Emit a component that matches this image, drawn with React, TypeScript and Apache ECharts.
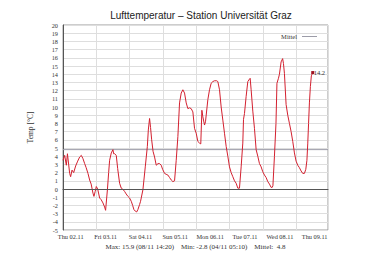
import React, { useEffect, useRef } from "react";
import * as echarts from "echarts";

const TITLE = "Lufttemperatur – Station Universität Graz";
const dayLabels = ["Thu 02.11", "Fri 03.11", "Sat 04.11", "Sun 05.11", "Mon 06.11", "Tue 07.11", "Wed 08.11", "Thu 09.11"];
const statsText = "Max: 15.9 (08/11 14:20)    Min: -2.8 (04/11 05:10)    Mittel:  4.8";
const meanValue = 4.8;
const lastLabel = "14.2";

// hours since Thu 02.11 00:00
const hours = [
  0, 1.2, 2.4, 3.2, 4.8, 5.5, 6.5, 7.7, 9.1, 10.6, 12.0, 13.2, 14.4, 15.6, 16.7, 18.0, 19.2, 20.3, 21.6, 22.3,
  23.2, 24.0, 25.0, 26.4, 27.5, 28.8, 30.0, 30.7, 32.0, 32.9, 33.6, 34.8, 36.0, 36.5, 37.2, 38.4, 39.4, 40.8,
  42.0, 43.0, 44.4, 45.5, 46.8, 48.0, 49.2, 50.2, 51.1, 52.1, 53.1, 54.0, 55.2, 55.9, 57.6, 59.3, 60.8, 61.5,
  62.4, 63.1, 63.9, 64.9, 66.0, 67.2, 68.5, 69.6, 70.8, 71.8, 73.2, 74.3, 75.6, 76.8, 78.0, 79.2, 80.4, 81.6,
  82.8, 84.0, 85.2, 86.4, 87.6, 88.8, 90.0, 91.2, 92.4, 93.6, 94.8, 96.0, 97.2, 98.4, 99.3, 100.1, 100.8,
  102.0, 102.7, 104.4, 105.6, 106.8, 108.0, 109.2, 110.7, 111.6, 112.8, 114.0, 115.2, 116.4, 117.6, 118.8,
  120.0, 121.2, 122.4, 123.6, 124.8, 126.0, 127.2, 128.4, 129.6, 130.1, 130.8, 132.0, 133.2, 134.4, 134.9,
  135.6, 136.8, 138.0, 139.2, 140.4, 141.6, 142.8, 144.0, 145.2, 146.4, 147.6, 148.8, 150.0, 150.8, 151.3,
  152.4, 153.5, 154.2, 155.3, 156.0, 157.2, 158.3, 158.9, 159.6, 160.8, 162.0, 163.2, 164.4, 165.6, 166.8,
  168.0, 169.2, 170.4, 171.6, 172.8, 174.0, 175.0, 175.8, 176.4, 177.0, 177.6, 178.3, 179.0, 180.0,
];

const temps = [
  3.5, 4.1, 2.9, 4.3, 1.9, 1.5, 2.3, 2.0, 2.8, 3.4, 3.9, 4.1, 3.7, 3.1, 2.6, 1.9, 1.1, 0.6, -0.5, -0.9,
  -0.3, 0.3, 0.0, -1.1, -1.3, -1.7, -2.2, -2.6, -0.1, 2.0, 3.5, 4.4, 4.8, 4.3, 4.3, 4.1, 2.5, 0.7,
  0.1, 0.0, -0.3, -0.6, -0.9, -1.1, -1.5, -2.0, -2.5, -2.7, -2.8, -2.5, -1.9, -1.5, -0.1, 2.7, 5.2, 7.2,
  8.6, 7.5, 6.0, 4.6, 3.9, 2.9, 3.1, 3.1, 2.9, 2.4, 1.9, 1.8, 1.7, 1.4, 1.1, 0.9, 1.0, 3.5,
  6.4, 10.5, 11.7, 12.1, 11.7, 10.5, 9.8, 9.9, 9.8, 9.4, 7.4, 6.8, 5.8, 5.6, 5.5, 9.6, 8.8,
  7.8, 8.2, 10.9, 12.1, 12.9, 13.1, 13.2, 13.2, 13.1, 12.1, 10.0, 8.4, 6.8, 5.2, 4.0,
  2.7, 2.0, 1.5, 1.0, 0.7, 0.1, 0.1, 2.7, 5.6, 8.5, 9.2, 11.3, 13.1, 13.4, 13.5,
  12.1, 9.5, 7.4, 4.8, 4.0, 3.1, 2.7, 2.1, 1.7, 1.4, 0.9, 0.6, 0.2, 0.2, 0.4,
  4.0, 8.0, 12.9, 13.5, 14.0, 15.5, 15.9, 15.3, 14.1, 10.3, 9.0, 8.0, 7.0, 5.8, 4.4,
  3.4, 2.9, 2.6, 2.2, 1.9, 1.9, 2.4, 3.5, 5.5, 8.0, 10.5, 12.5, 13.8, 14.2,
];

const xMaxHours = 191;
const dayIndex = [0, 1, 2, 3, 4, 5, 6, 7];

export default function App() {
  const ref = useRef<HTMLDivElement>(null);
  useEffect(() => {
    if (!ref.current) return;
    const chart = echarts.init(ref.current, undefined, { renderer: "svg" });
    const data = hours.map((h, i) => [h, temps[i]]);
    const serif = "Liberation Serif";
    chart.setOption({
      animation: false,
      backgroundColor: "#ffffff",
      title: {
        text: TITLE,
        left: 196,
        textAlign: "center",
        top: 5,
        textStyle: { fontFamily: "Liberation Sans", fontSize: 10, fontWeight: "normal", color: "#222" },
      },
      legend: {
        data: [{ name: "Mittel", icon: "rect" }],
        top: 28,
        right: 46,
        align: "right",
        itemWidth: 15,
        itemHeight: 1,
        itemGap: 4,
        textStyle: { fontFamily: serif, fontSize: 6.5, color: "#333" },
      },
      grid: {
        left: 63,
        right: 40,
        top: 25,
        bottom: 46,
        show: true,
        borderColor: "#9a9a9a",
        borderWidth: 1,
        backgroundColor: "#ffffff",
      },
      xAxis: [
        {
          type: "value",
          min: 0,
          max: xMaxHours,
          interval: 24,
          axisLine: { show: true, lineStyle: { color: "#555" } },
          axisTick: { show: false },
          axisLabel: { show: false },
          splitLine: { show: true, lineStyle: { color: "#dedede", width: 1 } },
          name: statsText,
          nameLocation: "middle",
          nameGap: 13,
          nameTextStyle: { fontFamily: serif, fontSize: 7, color: "#333" },
        },
        {
          type: "value",
          min: -0.221,
          max: 7.382,
          position: "bottom",
          axisLine: { show: false },
          axisTick: { show: false },
          splitLine: { show: false },
          axisLabel: {
            customValues: dayIndex,
            formatter: (v: number) => dayLabels[Math.round(v)] ?? "",
            fontFamily: serif,
            fontSize: 6.3,
            color: "#333",
            margin: 3,
          },
        },
      ],
      yAxis: {
        type: "value",
        min: -5,
        max: 20,
        interval: 1,
        name: "Temp [°C]",
        nameLocation: "middle",
        nameGap: 29,
        nameTextStyle: { fontFamily: serif, fontSize: 7.5, color: "#333" },
        axisLine: { show: true, lineStyle: { color: "#555" } },
        axisTick: { show: false },
        axisLabel: { fontFamily: serif, fontSize: 6.3, color: "#333", margin: 5 },
        splitLine: { show: true, lineStyle: { color: "#dedede", width: 1 } },
      },
      series: [
        {
          name: "Temp",
          type: "line",
          xAxisIndex: 0,
          data,
          showSymbol: false,
          symbol: "none",
          lineStyle: { color: "#d3202f", width: 1 },
          itemStyle: { color: "#d3202f" },
          endLabel: {
            show: true,
            formatter: lastLabel,
            fontFamily: serif,
            fontSize: 6.5,
            color: "#333",
            distance: 1,
          },
          markLine: {
            silent: true,
            symbol: "none",
            label: { show: false },
            lineStyle: { color: "#555", width: 1, type: "solid" },
            data: [{ yAxis: 0 }],
          },
          markPoint: {
            symbol: "rect",
            symbolSize: 3,
            itemStyle: { color: "#a01020" },
            label: { show: false },
            data: [{ coord: [hours[hours.length - 1], temps[temps.length - 1]] }],
          },
          z: 3,
        },
        {
          name: "Mittel",
          type: "line",
          xAxisIndex: 0,
          data: [
            [0, meanValue],
            [xMaxHours, meanValue],
          ],
          showSymbol: false,
          symbol: "none",
          lineStyle: { color: "#9c9ca8", width: 1 },
          itemStyle: { color: "#9c9ca8" },
          z: 2,
        },
      ],
    });
    return () => chart.dispose();
  }, []);
  return (
    <div
      ref={ref}
      style={{ position: "fixed", left: 0, top: 0, width: 368, height: 276 }}
    />
  );
}
